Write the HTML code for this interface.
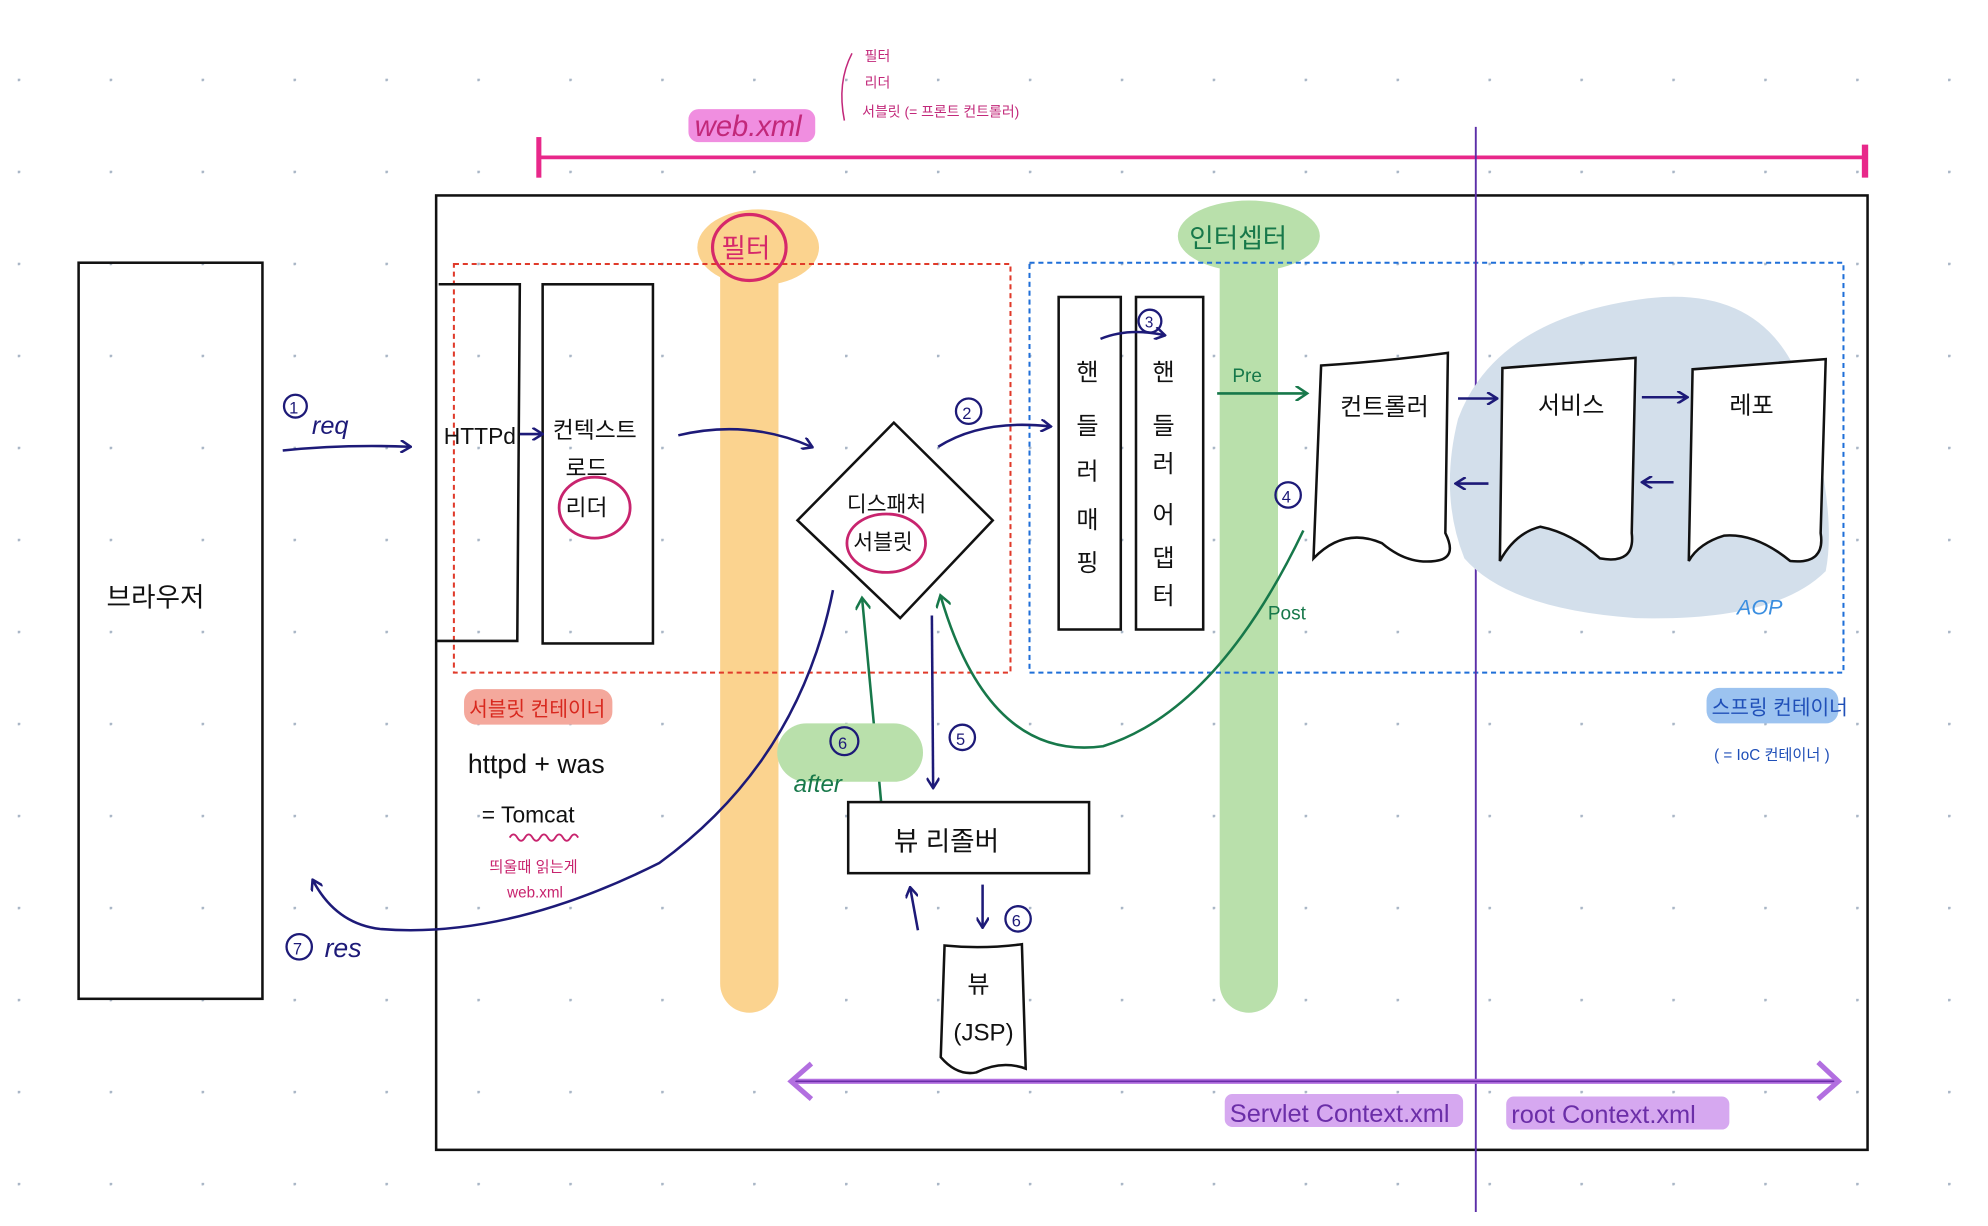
<!DOCTYPE html>
<html><head><meta charset="utf-8"><style>
html,body{margin:0;padding:0;background:#fff;}
svg{display:block;}
text{font-family:"Liberation Sans","Noto Sans CJK KR",sans-serif;}
</style></head><body>
<svg width="1988" height="1226" viewBox="0 0 1568 966" preserveAspectRatio="none" xmlns="http://www.w3.org/2000/svg">
<defs>
<pattern id="dots" x="14" y="62" width="72.5" height="72.5" patternUnits="userSpaceOnUse">
<circle cx="0.8" cy="0.8" r="1.3" fill="#a9b6c6"/>
</pattern>
<marker id="an" markerWidth="10" markerHeight="10" refX="8" refY="5" orient="auto" markerUnits="userSpaceOnUse"><path d="M1,0 L9,5 L1,10" fill="none" stroke="#1d1a78" stroke-width="2"/></marker>
<marker id="ag" markerWidth="12" markerHeight="12" refX="9" refY="6" orient="auto" markerUnits="userSpaceOnUse"><path d="M1,0 L10,6 L1,12" fill="none" stroke="#17784a" stroke-width="2"/></marker>
</defs>
<rect width="1568" height="966" fill="url(#dots)"/>

<!-- web.xml -->
<rect x="543" y="86" width="100" height="26" rx="8" fill="#f08ee0"/>
<text x="548" y="107" font-size="23" fill="#c2287a" font-style="italic">web.xml</text>
<path d="M672,42 Q660,65 666,95" fill="none" stroke="#c2287a" stroke-width="1.2"/>
<text x="682" y="48" font-size="11" fill="#c2287a">필터</text>
<text x="682" y="69" font-size="11" fill="#c2287a">리더</text>
<text x="680" y="92" font-size="11" fill="#c2287a">서블릿 (= 프론트 컨트롤러)</text>
<line x1="424" y1="124" x2="1472" y2="124" stroke="#e8288a" stroke-width="3"/>
<line x1="425" y1="108" x2="425" y2="140" stroke="#e8288a" stroke-width="4"/>
<line x1="1471" y1="114" x2="1471" y2="140" stroke="#e8288a" stroke-width="5"/>

<!-- main box -->
<rect x="344" y="154" width="1129" height="752" fill="none" stroke="#111" stroke-width="2"/>

<!-- bands -->
<rect x="568" y="190" width="46" height="608" rx="23" fill="#fbd38f"/>
<ellipse cx="598" cy="195" rx="48" ry="30" fill="#fbd38f"/>
<ellipse cx="591" cy="195" rx="29" ry="26" fill="none" stroke="#d6286a" stroke-width="2.5"/>
<text x="569" y="203" font-size="21" fill="#d6286a">필터</text>
<rect x="962" y="190" width="46" height="608" rx="23" fill="#b9e0ab"/>
<ellipse cx="985" cy="186" rx="56" ry="28" fill="#b9e0ab"/>
<text x="938" y="195" font-size="21" fill="#17784a">인터셉터</text>

<!-- dashed containers -->
<rect x="358" y="208" width="439" height="322" fill="none" stroke="#e03a2a" stroke-width="1.6" stroke-dasharray="4,3"/>
<rect x="812" y="207" width="642" height="323" fill="none" stroke="#1f6fd8" stroke-width="1.6" stroke-dasharray="4,3"/>

<!-- purple vertical -->
<line x1="1164" y1="100" x2="1164" y2="955" stroke="#5b2ea8" stroke-width="1.5"/>

<!-- browser -->
<rect x="62" y="207" width="145" height="580" fill="none" stroke="#111" stroke-width="2"/>
<text x="84" y="478" font-size="21" fill="#111">브라우저</text>

<!-- HTTPd & context -->
<path d="M346,224 L410,224 L408,505 L344,505" fill="none" stroke="#111" stroke-width="2"/>
<text x="350" y="350" font-size="18" fill="#111">HTTPd</text>
<rect x="428" y="224" width="87" height="283" fill="none" stroke="#111" stroke-width="2"/>
<text x="436" y="345" font-size="18" fill="#111">컨텍스트</text>
<text x="446" y="375" font-size="18" fill="#111">로드</text>
<text x="446" y="406" font-size="18" fill="#111">리더</text>
<ellipse cx="469" cy="400" rx="28" ry="24" fill="none" stroke="#c8246e" stroke-width="2.2"/>
<path d="M410,342 L427,342" stroke="#1d1a78" stroke-width="2" marker-end="url(#an)"/>

<!-- req arrows -->
<circle cx="233" cy="320" r="9" fill="none" stroke="#1d1a78" stroke-width="1.8"/>
<text x="228" y="326" font-size="13" fill="#1d1a78">1</text>
<text x="246" y="342" font-size="20" fill="#1d1a78" font-style="italic">req</text>
<path d="M223,355 Q270,350 323,352" fill="none" stroke="#1d1a78" stroke-width="2" marker-end="url(#an)"/>
<path d="M535,343 Q590,330 640,352" fill="none" stroke="#1d1a78" stroke-width="2" marker-end="url(#an)"/>

<!-- diamond -->
<polygon points="705,333 783,410 710,487 629,410" fill="#fff" stroke="#111" stroke-width="2"/>
<text x="668" y="403" font-size="17" fill="#111">디스패처</text>
<text x="673" y="433" font-size="17" fill="#111">서블릿</text>
<ellipse cx="699" cy="428" rx="31" ry="23" fill="none" stroke="#c8246e" stroke-width="2.2"/>
<circle cx="764" cy="324" r="10" fill="none" stroke="#1d1a78" stroke-width="1.8"/>
<text x="759" y="330" font-size="13" fill="#1d1a78">2</text>
<path d="M740,352 Q775,330 828,336" fill="none" stroke="#1d1a78" stroke-width="2" marker-end="url(#an)"/>

<!-- handler mapping/adapter -->
<rect x="835" y="234" width="49" height="262" fill="#fff" stroke="#111" stroke-width="2"/>
<rect x="896" y="234" width="53" height="262" fill="#fff" stroke="#111" stroke-width="2"/>
<g font-size="19" fill="#111">
<text x="849" y="300">핸</text><text x="849" y="342">들</text><text x="849" y="378">러</text><text x="849" y="416">매</text><text x="849" y="450">핑</text>
<text x="909" y="300">핸</text><text x="909" y="342">들</text><text x="909" y="372">러</text><text x="909" y="412">어</text><text x="909" y="446">댑</text><text x="909" y="476">터</text>
</g>
<circle cx="907" cy="253" r="9" fill="none" stroke="#1d1a78" stroke-width="1.8"/>
<text x="903" y="258" font-size="12" fill="#1d1a78">3</text>
<path d="M868,267 Q890,258 918,264" fill="none" stroke="#1d1a78" stroke-width="2" marker-end="url(#an)"/>

<!-- blue blob -->
<path d="M1150,330 Q1180,250 1300,235 Q1390,225 1420,300 Q1450,400 1440,450 Q1400,490 1290,487 Q1190,480 1155,440 Q1135,390 1150,330 Z" fill="#d3dfeb"/>
<text x="1370" y="484" font-size="17" fill="#3a8ee0" font-style="italic">AOP</text>

<!-- controller, service, repo -->
<path d="M1042,288 Q1090,285 1142,278 L1140,420 Q1150,440 1132,442 Q1110,445 1090,428 Q1060,415 1036,440 Z" fill="#fff" stroke="#111" stroke-width="2"/>
<text x="1057" y="327" font-size="19" fill="#111">컨트롤러</text>
<path d="M1185,290 Q1240,286 1290,282 L1287,420 Q1290,445 1262,440 Q1240,420 1215,415 Q1195,420 1183,442 Z" fill="#fff" stroke="#111" stroke-width="2"/>
<text x="1213" y="326" font-size="19" fill="#111">서비스</text>
<path d="M1335,291 Q1390,287 1440,283 L1436,420 Q1440,445 1412,442 Q1385,420 1360,422 Q1340,428 1332,442 Z" fill="#fff" stroke="#111" stroke-width="2"/>
<text x="1364" y="326" font-size="19" fill="#111">레포</text>
<path d="M1150,314 L1180,314" stroke="#1d1a78" stroke-width="2" marker-end="url(#an)"/>
<path d="M1295,313 L1330,313" stroke="#1d1a78" stroke-width="2" marker-end="url(#an)"/>
<path d="M1174,381 L1149,381" stroke="#1d1a78" stroke-width="2" marker-end="url(#an)"/>
<path d="M1320,380 L1296,380" stroke="#1d1a78" stroke-width="2" marker-end="url(#an)"/>

<!-- pre/post -->
<text x="972" y="301" font-size="15" fill="#17784a">Pre</text>
<path d="M960,310 L1030,310" stroke="#17784a" stroke-width="2" marker-end="url(#ag)"/>
<circle cx="1016" cy="390" r="10" fill="none" stroke="#1d1a78" stroke-width="1.8"/>
<text x="1011" y="396" font-size="13" fill="#1d1a78">4</text>
<text x="1000" y="488" font-size="15" fill="#17784a">Post</text>
<path d="M1028,418 Q960,560 870,588 Q780,600 742,470" fill="none" stroke="#17784a" stroke-width="2" marker-end="url(#ag)"/>
<path d="M695,632 L680,472" fill="none" stroke="#17784a" stroke-width="2" marker-end="url(#ag)"/>

<!-- 5 -->
<path d="M735,485 L736,620" stroke="#1d1a78" stroke-width="2" marker-end="url(#an)"/>
<circle cx="759" cy="581" r="10" fill="none" stroke="#1d1a78" stroke-width="1.8"/>
<text x="754" y="587" font-size="13" fill="#1d1a78">5</text>

<!-- after -->
<rect x="613" y="570" width="115" height="46" rx="23" fill="#b9e0ab"/>
<circle cx="666" cy="584" r="11" fill="none" stroke="#1d1a78" stroke-width="1.8"/>
<text x="661" y="590" font-size="13" fill="#1d1a78">6</text>
<text x="626" y="624" font-size="19" fill="#17784a" font-style="italic">after</text>

<!-- res -->
<path d="M657,465 Q630,600 520,680 Q400,740 300,732 Q265,728 247,694" fill="none" stroke="#1d1a78" stroke-width="2" marker-end="url(#an)"/>
<circle cx="236" cy="746" r="10" fill="none" stroke="#1d1a78" stroke-width="1.8"/>
<text x="231" y="752" font-size="13" fill="#1d1a78">7</text>
<text x="256" y="754" font-size="21" fill="#1d1a78" font-style="italic">res</text>

<!-- servlet container labels -->
<rect x="366" y="543" width="117" height="28" rx="10" fill="#f4a89c"/>
<text x="370" y="564" font-size="16" fill="#d8281e">서블릿 컨테이너</text>
<text x="369" y="609" font-size="21" fill="#111">httpd + was</text>
<text x="380" y="648" font-size="18" fill="#111">=  Tomcat</text>
<path d="M402,660 q3,-5 6,0 t6,0 t6,0 t6,0 t6,0 t6,0 t6,0 t6,0 t6,0" fill="none" stroke="#c8246e" stroke-width="1.5"/>
<text x="386" y="687" font-size="12" fill="#c8246e">띄울때 읽는게</text>
<text x="400" y="707" font-size="12" fill="#c8246e">web.xml</text>

<!-- spring container -->
<rect x="1346" y="542" width="104" height="28" rx="10" fill="#9cc3f0"/>
<text x="1350" y="563" font-size="16" fill="#1f4fb8">스프링 컨테이너</text>
<text x="1352" y="599" font-size="12" fill="#1f4fb8">( = IoC 컨테이너 )</text>

<!-- view resolver -->
<rect x="669" y="632" width="190" height="56" fill="#fff" stroke="#111" stroke-width="2"/>
<text x="705" y="670" font-size="21" fill="#111">뷰 리졸버</text>
<path d="M724,733 L718,700" stroke="#1d1a78" stroke-width="2" marker-end="url(#an)"/>
<path d="M775,697 L775,730" stroke="#1d1a78" stroke-width="2" marker-end="url(#an)"/>
<circle cx="803" cy="724" r="10" fill="none" stroke="#1d1a78" stroke-width="1.8"/>
<text x="798" y="730" font-size="13" fill="#1d1a78">6</text>

<!-- view jsp -->
<path d="M745,745 Q775,748 806,744 L809,842 Q790,835 770,845 Q755,848 742,833 Z" fill="#fff" stroke="#111" stroke-width="2"/>
<text x="763" y="782" font-size="19" fill="#111">뷰</text>
<text x="752" y="820" font-size="19" fill="#111">(JSP)</text>

<!-- bottom arrow -->
<line x1="626" y1="852" x2="1450" y2="852" stroke="#b26fe0" stroke-width="4"/>
<line x1="626" y1="852" x2="1450" y2="852" stroke="#6b2ea8" stroke-width="1.2"/>
<path d="M640,838 L624,852 L640,866" fill="none" stroke="#b26fe0" stroke-width="4"/>
<path d="M1434,837 L1450,852 L1434,866" fill="none" stroke="#b26fe0" stroke-width="4"/>
<rect x="966" y="862" width="188" height="26" rx="6" fill="#d6a8f0"/>
<text x="970" y="884" font-size="20" fill="#6b2ea8">Servlet Context.xml</text>
<rect x="1188" y="864" width="176" height="26" rx="6" fill="#d6a8f0"/>
<text x="1192" y="885" font-size="20" fill="#6b2ea8">root  Context.xml</text>
</svg>
</body></html>
